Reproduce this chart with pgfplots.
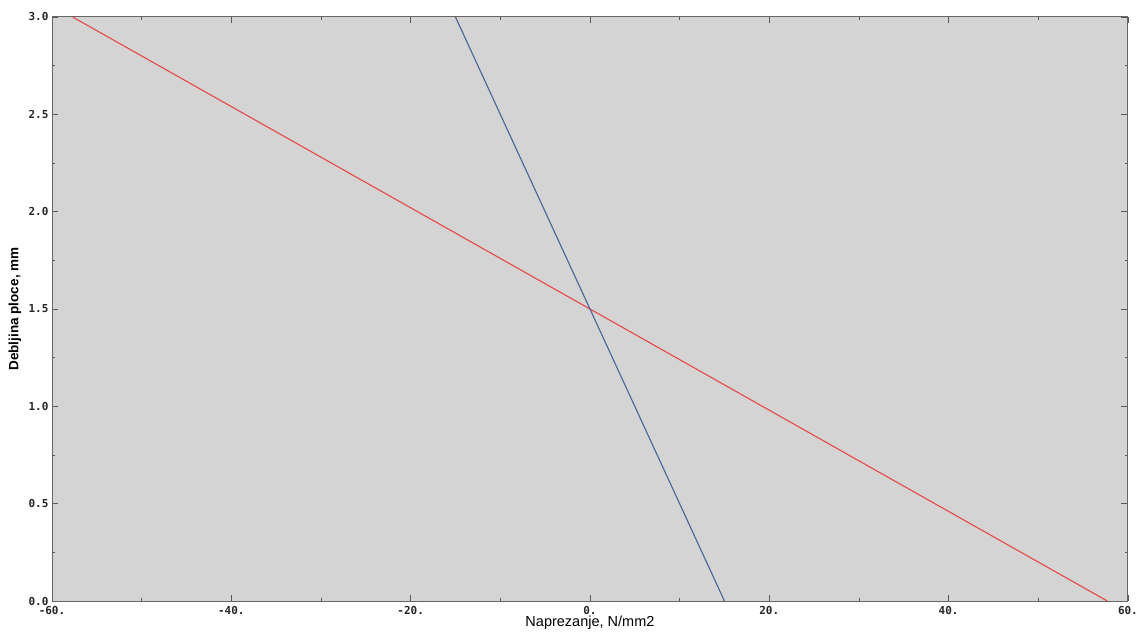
\documentclass[border=0pt]{standalone}
\usepackage{fontspec}
\setmainfont{Liberation Sans}
\newfontfamily\tickfont{DejaVu Sans Mono}
\usepackage{pgfplots}
\pgfplotsset{compat=1.18}
\definecolor{bg}{RGB}{212,212,212}
\definecolor{redl}{RGB}{235,70,70}
\definecolor{bluel}{RGB}{70,100,150}
\begin{document}
\begin{tikzpicture}
\useasboundingbox (-52bp,-32bp) rectangle (1085bp,601bp);
\begin{axis}[
  scale only axis, width=1076bp, height=584bp,
  xmin=-60, xmax=60, ymin=0, ymax=3,
  axis background/.style={fill=bg},
  axis line style={draw=black!60, line width=1bp},
  xtick={-60,-40,-20,0,20,40,60},
  xticklabels={-60.,-40.,-20.,0.,20.,40.,60.},
  ytick={0,0.5,1,1.5,2,2.5,3},
  yticklabels={0.0,0.5,1.0,1.5,2.0,2.5,3.0},
  minor tick num=1,
  tick align=inside,
  major tick length=6.5bp, minor tick length=3bp,
  tick style={black!65, line width=0.8bp},
  ticklabel style={font=\tickfont\bfseries\fontsize{11bp}{13bp}\selectfont, text=black!85},
  xticklabel style={yshift=-1.5bp},
  yticklabel style={xshift=0bp},
  xlabel={Naprezanje, N/mm2},
  ylabel={Debljina ploce, mm},
  xlabel style={at={(axis description cs:0.5,0)}, anchor=center, yshift=-22bp, font=\fontsize{14.5bp}{16bp}\selectfont},
  ylabel style={at={(axis description cs:-0.0344,0.5)}, anchor=center, font=\bfseries\fontsize{13.5bp}{15bp}\selectfont},
]
\addplot[redl, line width=1.1bp] coordinates {(-57.7,3) (57.7,0)};
\addplot[bluel, line width=1.1bp] coordinates {(-15,3) (15,0)};
\end{axis}
\end{tikzpicture}
\end{document}
